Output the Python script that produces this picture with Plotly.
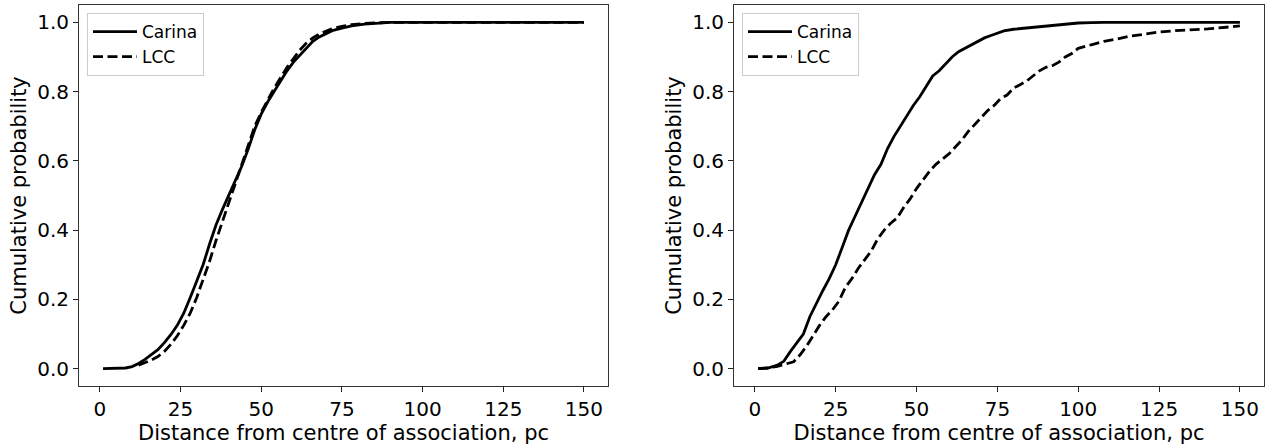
import plotly.graph_objects as go

# ---- data ----
left_carina_x = [1, 5, 8, 10, 12, 14, 16, 18, 20, 22, 24, 26, 28, 30, 32, 34, 36, 38, 40, 42, 44, 46, 48, 50,
                 52, 54, 56, 58, 60, 62, 64, 66, 68, 70, 72, 75, 78, 82, 86, 90, 100, 120, 150]
left_carina_y = [0, 0, 0.002, 0.006, 0.015, 0.027, 0.04, 0.055, 0.075, 0.098, 0.125, 0.16, 0.205, 0.25, 0.30,
                 0.36, 0.415, 0.46, 0.50, 0.545, 0.585, 0.635, 0.69, 0.735, 0.77, 0.80, 0.83, 0.86, 0.885,
                 0.905, 0.925, 0.945, 0.958, 0.968, 0.976, 0.983, 0.99, 0.995, 0.998, 1.0, 1.0, 1.0, 1.0]

left_lcc_x = [12, 14, 16, 18, 20, 22, 24, 26, 28, 30, 32, 34, 36, 38, 40, 42, 44, 46, 48, 50, 52, 54, 56, 58,
              60, 62, 64, 66, 68, 70, 72, 75, 78, 82, 86, 90, 100, 120, 150]
left_lcc_y = [0.01, 0.017, 0.025, 0.035, 0.05, 0.07, 0.095, 0.125, 0.16, 0.205, 0.255, 0.31, 0.37, 0.425,
              0.475, 0.53, 0.59, 0.645, 0.70, 0.74, 0.775, 0.81, 0.84, 0.87, 0.895, 0.92, 0.94, 0.955,
              0.966, 0.975, 0.982, 0.988, 0.993, 0.997, 0.999, 1.0, 1.0, 1.0, 1.0]

right_carina_x = [1, 4, 7, 9, 11, 13, 15, 17, 19, 21, 23, 25, 27, 29, 31, 33, 35, 37, 39, 41, 43, 45, 47, 49,
                  51, 53, 55, 57, 59, 61, 63, 65, 67, 69, 71, 73, 75, 77, 80, 84, 88, 92, 96, 100, 104, 108,
                  120, 150]
right_carina_y = [0, 0.002, 0.01, 0.022, 0.05, 0.075, 0.10, 0.15, 0.19, 0.225, 0.26, 0.30, 0.35, 0.40, 0.44,
                  0.48, 0.52, 0.56, 0.59, 0.635, 0.67, 0.70, 0.73, 0.76, 0.785, 0.815, 0.845, 0.86, 0.88,
                  0.90, 0.915, 0.925, 0.935, 0.945, 0.955, 0.962, 0.968, 0.975, 0.98, 0.984, 0.986, 0.99,
                  0.994, 0.998, 0.999, 1.0, 1.0, 1.0]

right_lcc_x = [1, 4, 7, 10, 12, 14, 16, 18, 20, 22, 24, 26, 28, 30, 32, 34, 36, 38, 40, 42, 44, 46, 48, 50,
               52, 54, 56, 58, 60, 62, 64, 66, 68, 70, 72, 74, 76, 78, 80, 82, 84, 86, 88, 90, 92, 94, 96,
               98, 100, 104, 108, 112, 116, 120, 125, 130, 135, 140, 145, 150]
right_lcc_y = [0, 0.002, 0.007, 0.015, 0.02, 0.04, 0.065, 0.095, 0.125, 0.15, 0.17, 0.195, 0.235, 0.26,
               0.29, 0.315, 0.34, 0.375, 0.40, 0.42, 0.435, 0.465, 0.49, 0.52, 0.545, 0.57, 0.59, 0.605,
               0.62, 0.64, 0.66, 0.685, 0.705, 0.725, 0.745, 0.76, 0.78, 0.79, 0.81, 0.82, 0.83, 0.845,
               0.86, 0.87, 0.875, 0.885, 0.90, 0.91, 0.925, 0.935, 0.945, 0.952, 0.96, 0.965, 0.972,
               0.976, 0.978, 0.981, 0.985, 0.99]

x_ticks = [0, 25, 50, 75, 100, 125, 150]
y_ticks = [0.0, 0.2, 0.4, 0.6, 0.8, 1.0]
x_title = "Distance from centre of association, pc"
y_title = "Cumulative probability"

FONT = "DejaVu Sans"
LW = 2.8
DASH = "10px,4.5px"

fig = go.Figure()
fig.add_trace(go.Scatter(x=left_carina_x, y=left_carina_y, mode="lines", name="Carina",
                         line=dict(color="black", width=LW), xaxis="x", yaxis="y", legend="legend"))
fig.add_trace(go.Scatter(x=left_lcc_x, y=left_lcc_y, mode="lines", name="LCC",
                         line=dict(color="black", width=LW, dash=DASH), xaxis="x", yaxis="y", legend="legend"))
fig.add_trace(go.Scatter(x=right_carina_x, y=right_carina_y, mode="lines", name="Carina",
                         line=dict(color="black", width=LW), xaxis="x2", yaxis="y2", legend="legend2"))
fig.add_trace(go.Scatter(x=right_lcc_x, y=right_lcc_y, mode="lines", name="LCC",
                         line=dict(color="black", width=LW, dash=DASH), xaxis="x2", yaxis="y2", legend="legend2"))

W, H = 1271, 445
common_x = dict(range=[-6.45, 157.45], tickvals=x_ticks, ticks="outside", ticklen=5, tickwidth=1,
                tickcolor="#222", showline=True, mirror=True, linecolor="#333", linewidth=1,
                showgrid=False, zeroline=False, tickfont=dict(size=20, color="black"), automargin=False,
                title=dict(text=x_title, font=dict(size=21, color="black"), standoff=0))
common_y = dict(range=[-0.05, 1.05], tickvals=y_ticks, tickformat=".1f", ticks="outside", ticklen=5,
                tickwidth=1, tickcolor="#222", showline=True, mirror=True, linecolor="#333", linewidth=1,
                showgrid=False, zeroline=False, tickfont=dict(size=20, color="black"), automargin=False,
                title=dict(text=y_title, font=dict(size=21, color="black"), standoff=4),
                domain=[59 / H, 440 / H])

legend_common = dict(xanchor="left", yanchor="top", bgcolor="rgba(255,255,255,0.8)",
                     bordercolor="#cccccc", borderwidth=1, font=dict(size=17, color="black", family=FONT),
                     itemwidth=44)

fig.update_layout(
    width=W, height=H,
    margin=dict(l=0, r=0, t=0, b=0),
    paper_bgcolor="white", plot_bgcolor="white",
    font=dict(family=FONT, color="black"),
    xaxis=dict(domain=[79 / W, 608 / W], anchor="y", **common_x),
    yaxis=dict(anchor="x", **common_y),
    xaxis2=dict(domain=[734 / W, 1264 / W], anchor="y2", **common_x),
    yaxis2=dict(anchor="x2", **common_y),
    legend=dict(x=87 / W, y=1 - 13 / H, **legend_common),
    legend2=dict(x=742 / W, y=1 - 13 / H, **legend_common),
)

fig.write_html("out.html", config={"displayModeBar": False},
               post_script="document.body.style.margin='0';document.body.style.overflow='hidden';")
